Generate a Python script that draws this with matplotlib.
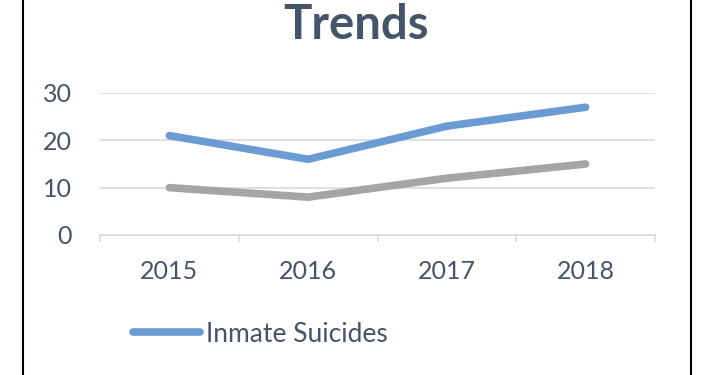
import matplotlib
matplotlib.use('Agg')
import matplotlib.pyplot as plt
from matplotlib.lines import Line2D

years = ['2015', '2016', '2017', '2018']
inmate_suicides = [21, 16, 23, 27]
second_series = [10, 8, 12, 15]
yticks = [0, 10, 20, 30]

text_col = '#44546A'
grid_col = '#D9DDE3'

plt.rcParams['font.family'] = ['Lato', 'DejaVu Sans']

fig = plt.figure(figsize=(7.1, 3.75), dpi=100)
ax = fig.add_axes([100 / 710, 140 / 375, 555 / 710, 142 / 375])

x = range(len(years))
ax.plot(x, inmate_suicides, color='#6A9BD3', lw=5.5, solid_capstyle='round',
        solid_joinstyle='round', clip_on=False, label='Inmate Suicides')
ax.plot(x, second_series, color='#A5A5A5', lw=5.5, solid_capstyle='round',
        solid_joinstyle='round', clip_on=False)

ax.set_xlim(-0.5, len(years) - 0.5)
ax.set_ylim(0, 30)
ax.set_yticks(yticks)
ax.set_xticks(list(x))
ax.set_xticklabels(years)
ax.yaxis.grid(True, color=grid_col, lw=1.3)
ax.set_axisbelow(True)
for s in ['top', 'right', 'left']:
    ax.spines[s].set_visible(False)
ax.spines['bottom'].set_color(grid_col)
ax.spines['bottom'].set_linewidth(1.3)
ax.tick_params(axis='y', length=0, labelsize=18, labelcolor=text_col, pad=20)
ax.tick_params(axis='x', length=0, labelsize=18, labelcolor=text_col, pad=18)

# boundary tick marks below the axis
for b in range(len(years) + 1):
    ax.plot([b - 0.5, b - 0.5], [0, -1.3], color=grid_col, lw=1.3, clip_on=False)

fig.text(0.502, 1 - 3 / 375, 'Trends', ha='center', va='top', fontsize=34,
         fontweight='bold', color=text_col)

handle = Line2D([], [], color='#6A9BD3', lw=5.5, solid_capstyle='round')
fig.legend([handle], ['Inmate Suicides'], loc='center left',
           bbox_to_anchor=(133 / 710, 1 - 334 / 375), frameon=False,
           fontsize=19, labelcolor=text_col, handlelength=2.55,
           handletextpad=0.2, borderaxespad=0, borderpad=0)

# outer frame edges
fig.add_artist(Line2D([23 / 710, 23 / 710], [0, 1], color='black', lw=1.5))
fig.add_artist(Line2D([691 / 710, 691 / 710], [0, 1], color='black', lw=1.5))

fig.savefig('out.png', dpi=100, facecolor='white')
